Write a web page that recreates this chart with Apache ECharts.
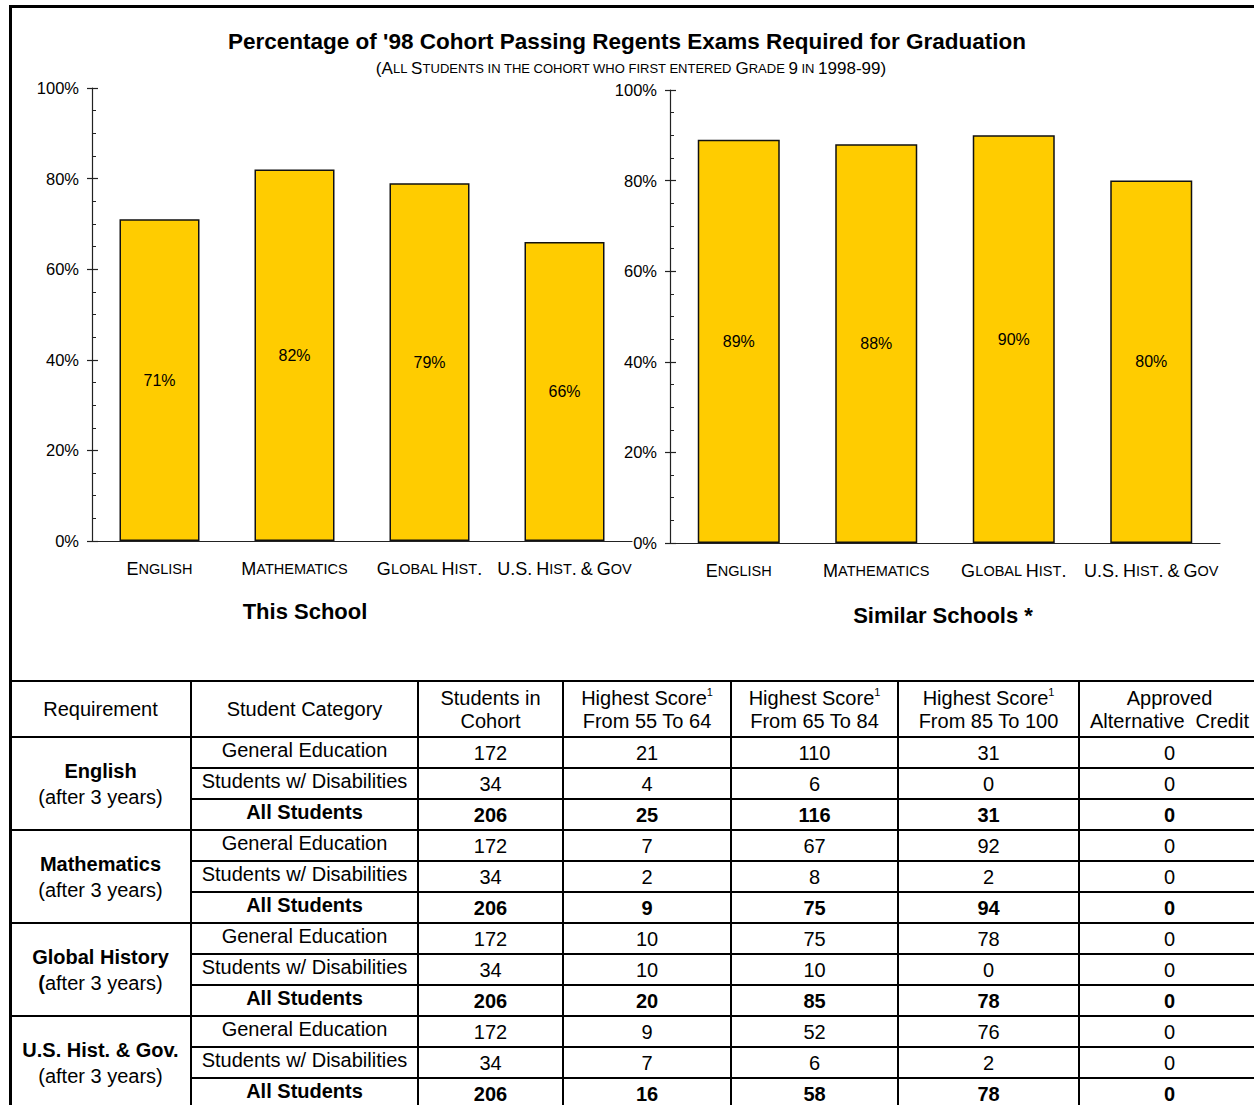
<!DOCTYPE html>
<html><head><meta charset="utf-8">
<script src="https://cdn.jsdelivr.net/npm/echarts@6/dist/echarts.min.js"></script>
<style>html,body{margin:0;padding:0;background:#fff}#c{width:1254px;height:1105px}</style>
</head><body><div id="c"></div>
<script>
// ---------- DATA ----------
const examCategories = ['English', 'Mathematics', 'Global Hist.', 'U.S. Hist. & Gov'];
const thisSchoolPct = [71, 82, 79, 66];
const similarSchoolsPct = [89, 88, 90, 80];
const chartTitle = "Percentage of '98 Cohort Passing Regents Exams Required for Graduation";
const chartSubtitle = '(All Students in the cohort who first entered Grade 9 in 1998-99)';
const panelNames = ['This School', 'Similar Schools *'];

const tableHeaders = ['Requirement', 'Student Category', 'Students in\nCohort',
  'Highest Score^1\nFrom 55 To 64', 'Highest Score^1\nFrom 65 To 84',
  'Highest Score^1\nFrom 85 To 100', 'Approved\nAlternative  Credit'];
const requirements = ['English', 'Mathematics', 'Global History', 'U.S. Hist. & Gov.'];
const requirementNote = '(after 3 years)';
const studentCategories = ['General Education', 'Students w/ Disabilities', 'All Students'];
const studentsInCohort = [[172, 34, 206], [172, 34, 206], [172, 34, 206], [172, 34, 206]];
const score55to64 = [[21, 4, 25], [7, 2, 9], [10, 10, 20], [9, 7, 16]];
const score65to84 = [[110, 6, 116], [67, 8, 75], [75, 10, 85], [52, 6, 58]];
const score85to100 = [[31, 0, 31], [92, 2, 94], [78, 0, 78], [76, 2, 78]];
const altCredit = [[0, 0, 0], [0, 0, 0], [0, 0, 0], [0, 0, 0]];

// ---------- HELPERS ----------
const FONT = '"Liberation Sans", Arial, Helvetica, sans-serif';
function smallCaps(str) {
  let out = '', cur = null, buf = '';
  for (const ch of str) {
    const small = (ch >= 'a' && ch <= 'z') || ch === ' ';
    const key = small ? 's' : 'L';
    const c = small ? ch.toUpperCase() : ch;
    if (key !== cur) { if (buf) out += '{' + cur + '|' + buf + '}'; buf = ''; cur = key; }
    buf += c;
  }
  if (buf) out += '{' + cur + '|' + buf + '}';
  return out;
}

const chart = echarts.init(document.getElementById('c'), null, {renderer: 'svg'});

const grids = [
  {left: 92, top: 88, width: 540, height: 453},
  {left: 670, top: 90, width: 550, height: 453}
];
const xAxes = [], yAxes = [], series = [];
const panelData = [thisSchoolPct, similarSchoolsPct];
const barWidths = [80, 82];
grids.forEach((g, i) => {
  xAxes.push({
    type: 'category', gridIndex: i, data: examCategories,
    axisLine: {lineStyle: {color: '#222', width: 1.2}},
    axisTick: {show: false},
    axisLabel: {
      margin: 19, interval: 0,
      formatter: v => smallCaps(v),
      rich: {
        L: {fontSize: 18, fontFamily: FONT, color: '#000'},
        s: {fontSize: 14.5, fontFamily: FONT, color: '#000'}
      }
    }
  });
  yAxes.push({
    type: 'value', gridIndex: i, min: 0, max: 100, interval: 20, position: 'left',
    axisLine: {show: true, lineStyle: {color: '#222', width: 1.2}},
    axisTick: {show: true, length: 5, lineStyle: {color: '#222', width: 1.2}},
    splitLine: {show: false},
    axisLabel: {formatter: '{value}%', fontSize: 16.5, fontFamily: FONT, color: '#000', margin: 13}
  });
  yAxes.push({
    type: 'value', gridIndex: i, min: 0, max: 100, interval: 20, position: 'left', offset: 0,
    axisLine: {show: false},
    axisTick: {show: true, inside: true, length: 6, lineStyle: {color: '#222', width: 1.2}},
    minorTick: {show: true, splitNumber: 4, length: 4, lineStyle: {color: '#222', width: 1}},
    splitLine: {show: false},
    axisLabel: {show: false}
  });
  series.push({
    type: 'bar', xAxisIndex: i, yAxisIndex: i * 2, data: panelData[i], barWidth: barWidths[i],
    itemStyle: {color: '#FFCC00', borderColor: '#111', borderWidth: 1.5},
    label: {show: true, position: 'inside', formatter: '{c}%', fontSize: 16, fontFamily: FONT, color: '#000'}
  });
});

// ---------- TABLE (graphic) ----------
const colEdges = [10, 191, 418, 563, 731, 898, 1079, 1260];
const headTop = 681, headBottom = 737, rowH = 31, tableBottom = 1115;
const g = [];
function line(x1, y1, x2, y2, w) {
  g.push({type: 'line', shape: {x1, y1, x2, y2}, style: {stroke: '#000', lineWidth: w || 2}, silent: true});
}
function txt(x, y, text, opts) {
  opts = opts || {};
  g.push({type: 'text', x, y, silent: true, style: Object.assign({
    text, textAlign: 'center', verticalAlign: 'middle', fill: '#000',
    font: (opts.bold ? 'bold ' : '') + (opts.size || 20) + 'px ' + FONT,
    lineHeight: opts.lh || 23
  }, opts.extra || {})});
}
// outer frame
line(10.5, 5, 10.5, 1105, 3);
line(9, 6.5, 1254, 6.5, 3);
// table grid
line(10, headTop, 1260, headTop, 2);
line(10, headBottom, 1260, headBottom, 2);
for (let gi = 0; gi < requirements.length; gi++) {
  const top = headBottom + gi * 3 * rowH;
  if (gi > 0) line(10, top, 1260, top, 2);
  for (let r = 1; r < 3; r++) line(colEdges[1], top + r * rowH, 1260, top + r * rowH, 2);
}
for (let c = 1; c < colEdges.length - 1; c++) line(colEdges[c], headTop, colEdges[c], tableBottom, 2);

// headers
const supRich = {
  t: {fontSize: 20, fontFamily: FONT, lineHeight: 23, fill: '#000'},
  p: {fontSize: 11, fontFamily: FONT, lineHeight: 23, verticalAlign: 'top', fill: '#000'}
};
tableHeaders.forEach((h, c) => {
  const cx = (colEdges[c] + colEdges[c + 1]) / 2;
  if (h.indexOf('^') >= 0) {
    const parts = h.split('\n');
    const first = parts[0].split('^');
    const rich = '{t|' + first[0] + '}{p|' + first[1] + '}\n{t|' + parts[1] + '}';
    txt(cx, (headTop + headBottom) / 2, rich, {extra: {rich: supRich}});
  } else {
    txt(cx, (headTop + headBottom) / 2, h);
  }
});
// body
const numCols = [studentsInCohort, score55to64, score65to84, score85to100, altCredit];
requirements.forEach((req, gi) => {
  const top = headBottom + gi * 3 * rowH;
  const cx0 = (colEdges[0] + colEdges[1]) / 2;
  const firstBold = req === 'Global History';
  const note = firstBold ? '{b|(}{n|' + requirementNote.slice(1) + '}' : '{n|' + requirementNote + '}';
  txt(cx0, top + 1.5 * rowH, '{b|' + req + '}\n' + note, {extra: {rich: {
    b: {fontSize: 20, fontWeight: 'bold', fontFamily: FONT, lineHeight: 26, fill: '#000'},
    n: {fontSize: 20, fontFamily: FONT, lineHeight: 26, fill: '#000'}
  }}});
  studentCategories.forEach((cat, r) => {
    const cy = top + r * rowH + rowH / 2;
    const bold = r === 2;
    txt((colEdges[1] + colEdges[2]) / 2, cy - 3, cat, {bold});
    numCols.forEach((arr, k) => {
      txt((colEdges[k + 2] + colEdges[k + 3]) / 2, cy, String(arr[gi][r]), {bold});
    });
  });
});

// subtitle and panel names
g.push({type: 'text', x: 631, y: 68, silent: true, style: {
  text: smallCaps(chartSubtitle), textAlign: 'center', verticalAlign: 'middle',
  rich: {L: {fontSize: 17, fontFamily: FONT, fill: '#000'}, s: {fontSize: 13, fontFamily: FONT, fill: '#000'}}
}});
txt(305, 611, panelNames[0], {bold: true, size: 22});
txt(943, 615, panelNames[1], {bold: true, size: 22});

chart.setOption({
  animation: false,
  backgroundColor: '#fff',
  title: {text: chartTitle, left: 'center', top: 25,
    textStyle: {fontSize: 22.5, fontWeight: 'bold', fontFamily: FONT, color: '#000'}},
  grid: grids,
  xAxis: xAxes,
  yAxis: yAxes,
  series,
  graphic: g
});
</script></body></html>
